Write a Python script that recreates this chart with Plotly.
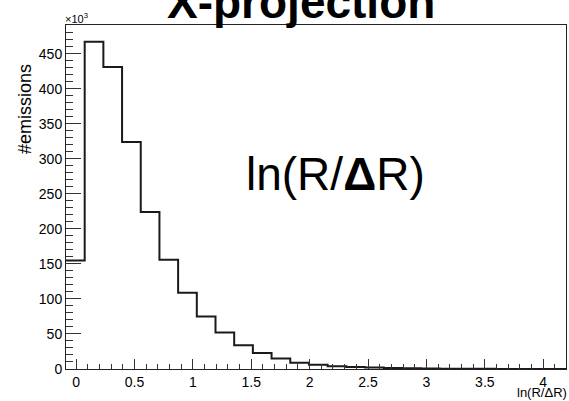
import plotly.graph_objects as go

# Histogram data (values in units of 10^3 emissions)
bin_start = -0.086
bin_width = 0.16
counts_k = [155, 467, 431, 324, 224, 156, 109, 75, 52, 34, 23, 15, 9, 6, 4,
            3, 2, 1.5, 1, 0.7, 0.5, 0.3, 0.2, 0.15, 0.1, 0.05, 0.03]
x_tick_vals = [0, 0.5, 1, 1.5, 2, 2.5, 3, 3.5, 4]
x_tick_text = ["0", "0.5", "1", "1.5", "2", "2.5", "3", "3.5", "4"]
y_tick_vals = [0, 50, 100, 150, 200, 250, 300, 350, 400, 450]
y_tick_text = [str(v) for v in y_tick_vals]

edges = [bin_start + i * bin_width for i in range(len(counts_k) + 1)]
step_y = counts_k + [counts_k[-1]]

W, H = 569, 401
ML, MR, MT, MB = 66, 3, 25, 32
PW, PH = W - ML - MR, H - MT - MB

def px_x(p):
    return (p - ML) / PW

def px_y(p):
    return (H - MB - p) / PH

FONT = "Liberation Sans, Arial, Helvetica, sans-serif"

fig = go.Figure()
fig.add_trace(go.Scatter(
    x=edges, y=step_y, mode="lines",
    line=dict(shape="hv", color="#1a1a1a", width=2),
    showlegend=False, hoverinfo="skip",
))

fig.update_layout(
    width=W, height=H,
    margin=dict(l=ML, r=MR, t=MT, b=MB, pad=0),
    paper_bgcolor="white", plot_bgcolor="white",
    font=dict(family=FONT, color="black", size=14),
    showlegend=False,
)
fig.update_xaxes(
    range=[-0.086, 4.195], showgrid=False, zeroline=False,
    showline=True, linecolor="#222", linewidth=1, mirror=True,
    ticks="inside", ticklen=10, tickwidth=1, tickcolor="#333",
    tickvals=x_tick_vals, ticktext=x_tick_text,
    tickfont=dict(size=14, family=FONT),
    minor=dict(dtick=0.1, tick0=0, ticks="inside", ticklen=5, tickwidth=1, tickcolor="#333"),
)
fig.update_yaxes(
    range=[0, 491], showgrid=False, zeroline=False,
    showline=True, linecolor="#222", linewidth=1, mirror=True,
    ticks="inside", ticklen=15, tickwidth=1, tickcolor="#333",
    tickvals=y_tick_vals, ticktext=y_tick_text,
    tickfont=dict(size=14, family=FONT),
    minor=dict(dtick=10, tick0=0, ticks="inside", ticklen=7, tickwidth=1, tickcolor="#333"),
)

ann = []
# Title (partially clipped at top as in reference)
ann.append(dict(text="<b>X-projection</b>", xref="paper", yref="paper",
                x=px_x(301), y=px_y(2), xanchor="center", yanchor="middle",
                showarrow=False, borderpad=0, font=dict(size=46, family=FONT, color="black")))
# Big in-plot label
ann.append(dict(text="ln(R/<b>Δ</b>R)", xref="paper", yref="paper",
                x=px_x(335.5), y=px_y(174), xanchor="center", yanchor="middle",
                showarrow=False, borderpad=0, font=dict(size=46, family=FONT, color="black")))
# x-axis title
ann.append(dict(text="ln(R/ΔR)", xref="paper", yref="paper",
                x=px_x(568), y=px_y(401), xanchor="right", yanchor="bottom",
                showarrow=False, borderpad=0, font=dict(size=13, family=FONT, color="black")))
# y-axis title
ann.append(dict(text="#emissions", xref="paper", yref="paper", textangle=-90,
                x=px_x(25), y=px_y(63), xanchor="center", yanchor="top",
                showarrow=False, borderpad=0, font=dict(size=18, family=FONT, color="black")))
# exponent label
ann.append(dict(text="×10<sup>3</sup>", xref="paper", yref="paper",
                x=px_x(64), y=px_y(26), xanchor="left", yanchor="bottom",
                showarrow=False, borderpad=0, font=dict(size=11, family=FONT, color="black")))
fig.update_layout(annotations=ann)

fig.write_html("out.html", config={"displayModeBar": False},
               post_script="document.body.style.margin='0';document.body.style.overflow='hidden';")
